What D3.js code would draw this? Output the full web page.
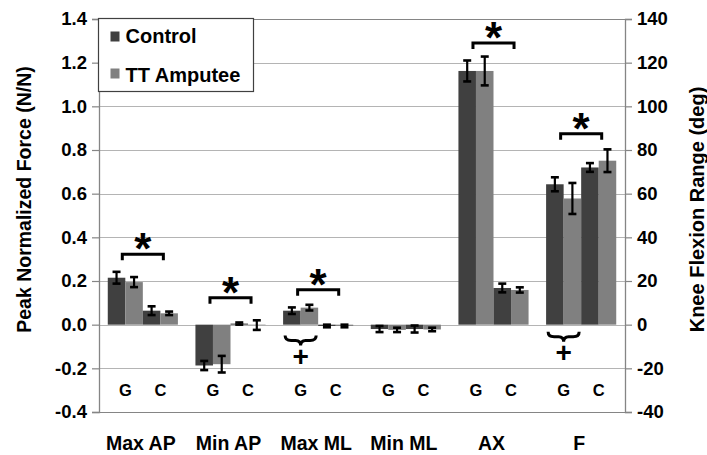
<!DOCTYPE html>
<html>
<head>
<meta charset="utf-8">
<script src="https://cdn.jsdelivr.net/npm/d3@7"></script>
<style>
  body { margin: 0; background: #fff; }
  svg text { font-family: "Liberation Sans", Arial, sans-serif; font-weight: bold; fill: #000; }
</style>
</head>
<body>
<div id="chart"></div>
<script>
// categories and sub-groups
const categories = ['Max AP', 'Min AP', 'Max ML', 'Min ML', 'AX', 'F'];
const subGroups = ['G', 'C'];
const seriesNames = ['Control', 'TT Amputee'];

// bar values (left axis units, N/N; right axis = x100 deg)
const controlG = [0.215, -0.187, 0.064, -0.020, 1.162, 0.643];
const controlGErr = [0.027, 0.021, 0.015, 0.014, 0.048, 0.032];
const amputeeG = [0.195, -0.181, 0.078, -0.024, 1.162, 0.578];
const amputeeGErr = [0.023, 0.038, 0.013, 0.010, 0.066, 0.071];
const controlC = [0.064, 0.005, -0.006, -0.020, 0.168, 0.720];
const controlCErr = [0.020, 0.005, 0.006, 0.016, 0.020, 0.020];
const amputeeC = [0.052, -0.002, -0.006, -0.022, 0.159, 0.751];
const amputeeCErr = [0.008, 0.022, 0.006, 0.008, 0.012, 0.052];

// tick labels
const leftTicks = [-0.4, -0.2, 0, 0.2, 0.4, 0.6, 0.8, 1.0, 1.2, 1.4];
const rightTicks = [-40, -20, 0, 20, 40, 60, 80, 100, 120, 140];

// significance markers
const starCats = ['Max AP', 'Min AP', 'Max ML', 'AX', 'F'];
const starLevels = [0.323, 0.123, 0.160, 1.290, 0.875];
const braceCats = ['Max ML', 'F'];
const braceLevels = [-0.05, -0.032];

const W = 707, H = 455;
const margin = { top: 19, right: 82, bottom: 43, left: 99 };

const svg = d3.select('#chart').append('svg')
    .attr('width', W)
    .attr('height', H);

const y = d3.scaleLinear().domain([-0.4, 1.4]).range([H - margin.bottom, margin.top]);
const yRight = d3.scaleLinear().domain([-40, 140]).range([H - margin.bottom, margin.top]);
const x = d3.scaleBand().domain(categories)
    .range([margin.left, W - margin.right])
    .paddingInner(0.2).paddingOuter(0.1);
const bars = ['cG', 'aG', 'cC', 'aC'];
const xSub = d3.scaleBand().domain(bars).range([0, x.bandwidth()]);
const xPair = d3.scaleBand().domain(subGroups).range([0, x.bandwidth()]);

const colors = { c: '#404040', a: '#808080' };
const hyphen = f => d => f(d).replace('\u2212', '-');

// gridlines
svg.append('g').selectAll('line')
    .data(leftTicks)
    .join('line')
    .attr('x1', margin.left).attr('x2', W - margin.right)
    .attr('y1', d => Math.round(y(d)) + 0.5).attr('y2', d => Math.round(y(d)) + 0.5)
    .attr('stroke', d => (d === 1.4 || d === -0.4) ? '#858585' : '#b4b4b4')
    .attr('stroke-width', 1.2);

// bars
const rows = categories.map((c, i) => ({
    cat: c,
    vals: [
        { key: 'cG', v: controlG[i], e: controlGErr[i], col: colors.c },
        { key: 'aG', v: amputeeG[i], e: amputeeGErr[i], col: colors.a },
        { key: 'cC', v: controlC[i], e: controlCErr[i], col: colors.c },
        { key: 'aC', v: amputeeC[i], e: amputeeCErr[i], col: colors.a }
    ]
}));

const grp = svg.append('g').selectAll('g')
    .data(rows)
    .join('g')
    .attr('transform', d => `translate(${x(d.cat)},0)`);

grp.selectAll('rect')
    .data(d => d.vals)
    .join('rect')
    .attr('x', d => xSub(d.key))
    .attr('width', xSub.bandwidth())
    .attr('y', d => y(Math.max(0, d.v)))
    .attr('height', d => Math.abs(y(d.v) - y(0)))
    .attr('fill', d => d.col);

// error bars
const eb = grp.selectAll('g.err')
    .data(d => d.vals)
    .join('g')
    .attr('class', 'err')
    .attr('transform', d => `translate(${xSub(d.key) + xSub.bandwidth() / 2},0)`);
eb.append('line')
    .attr('y1', d => y(d.v + d.e)).attr('y2', d => y(d.v - d.e))
    .attr('stroke', '#000').attr('stroke-width', 2.2);
eb.selectAll('line.cap')
    .data(d => [d.v + d.e, d.v - d.e])
    .join('line')
    .attr('class', 'cap')
    .attr('x1', -4).attr('x2', 4)
    .attr('y1', d => y(d)).attr('y2', d => y(d))
    .attr('stroke', '#000').attr('stroke-width', 2.6);

// axes
const leftAxis = d3.axisLeft(y).tickValues(leftTicks).tickSize(7).tickFormat(hyphen(d3.format('.1f')));
const rightAxis = d3.axisRight(yRight).tickValues(rightTicks).tickSize(7).tickFormat(hyphen(d3.format('d')));

const gl = svg.append('g').attr('transform', `translate(${margin.left},0)`).call(leftAxis);
const gr = svg.append('g').attr('transform', `translate(${W - margin.right},0)`).call(rightAxis);
[gl, gr].forEach(g => {
    g.select('.domain').attr('stroke', '#858585').attr('stroke-width', 1.3);
    g.selectAll('.tick line').attr('stroke', '#858585').attr('stroke-width', 1.2);
    g.selectAll('.tick text').attr('font-size', 18.5).attr('fill', '#000')
        .style('font-family', '"Liberation Sans", Arial, sans-serif').style('font-weight', 'bold');
});
gl.selectAll('.tick text').attr('x', -12);
gr.selectAll('.tick text').attr('x', 12);

// G / C labels
grp.selectAll('text.sub')
    .data(subGroups)
    .join('text')
    .attr('class', 'sub')
    .attr('x', d => xPair(d) + xPair.bandwidth() / 2)
    .attr('y', 396)
    .attr('text-anchor', 'middle')
    .attr('font-size', 16.5)
    .text(d => d);

// category labels
svg.append('g').selectAll('text')
    .data(categories)
    .join('text')
    .attr('x', d => x(d) + x.bandwidth() / 2 - 2)
    .attr('y', 450)
    .attr('text-anchor', 'middle')
    .attr('font-size', 19.5)
    .text(d => d);

// axis titles
svg.append('text')
    .attr('transform', `translate(31,${(y(-0.4) + y(1.4)) / 2 - 16}) rotate(-90)`)
    .attr('text-anchor', 'middle')
    .attr('font-size', 19.5)
    .text('Peak Normalized Force (N/N)');
svg.append('text')
    .attr('transform', `translate(704,${(y(-0.4) + y(1.4)) / 2 - 6}) rotate(-90)`)
    .attr('text-anchor', 'middle')
    .attr('font-size', 20)
    .text('Knee Flexion Range (deg)');

// significance brackets with stars
const stars = svg.append('g').selectAll('g')
    .data(starCats.map((c, i) => ({ cat: c, lvl: starLevels[i] })))
    .join('g');
stars.append('path')
    .attr('d', d => {
        const x0 = x(d.cat) + xPair.bandwidth() / 2 - 3;
        const x1 = x(d.cat) + xPair('C') + xPair.bandwidth() / 2 + 3;
        const yy = y(d.lvl);
        return `M${x0},${yy + 6}V${yy}H${x1}V${yy + 6}`;
    })
    .attr('fill', 'none').attr('stroke', '#000').attr('stroke-width', 3);
stars.append('text')
    .attr('x', d => x(d.cat) + x.bandwidth() / 2)
    .attr('y', d => y(d.lvl) + 10)
    .attr('text-anchor', 'middle')
    .attr('font-size', 44)
    .text('*');

// braces with plus signs under the G pair
const braces = svg.append('g').selectAll('g')
    .data(braceCats.map((c, i) => ({ cat: c, lvl: braceLevels[i] })))
    .join('g');
braces.append('path')
    .attr('d', d => {
        const x0 = x(d.cat) + 2, x1 = x(d.cat) + xPair.bandwidth() - 2;
        const mid = (x0 + x1) / 2, y0 = y(d.lvl), ym = y0 + 5, yb = y0 + 10;
        const p = d3.path();
        p.moveTo(x0, y0); p.quadraticCurveTo(x0, ym, x0 + 6, ym); p.lineTo(mid - 5, ym);
        p.quadraticCurveTo(mid, ym, mid, yb);
        p.moveTo(x1, y0); p.quadraticCurveTo(x1, ym, x1 - 6, ym); p.lineTo(mid + 5, ym);
        p.quadraticCurveTo(mid, ym, mid, yb);
        return p.toString();
    })
    .attr('fill', 'none').attr('stroke', '#000').attr('stroke-width', 3);
braces.append('text')
    .attr('x', d => x(d.cat) + xPair.bandwidth() / 2)
    .attr('y', d => y(d.lvl) + 30)
    .attr('text-anchor', 'middle')
    .attr('font-size', 28)
    .text('+');

// legend
const lg = svg.append('g').attr('transform', 'translate(98.5,18.5)');
lg.append('rect').attr('width', 155).attr('height', 73)
    .attr('fill', '#fff').attr('stroke', '#404040').attr('stroke-width', 1.2);
lg.selectAll('rect.key')
    .data(seriesNames)
    .join('rect')
    .attr('class', 'key')
    .attr('x', 12).attr('y', (d, i) => 13 + i * 37)
    .attr('width', 9).attr('height', 10)
    .attr('fill', (d, i) => i ? colors.a : colors.c);
lg.selectAll('text')
    .data(seriesNames)
    .join('text')
    .attr('x', 27).attr('y', (d, i) => 24 + i * 39)
    .attr('font-size', 20)
    .text(d => d);
</script>
</body>
</html>
